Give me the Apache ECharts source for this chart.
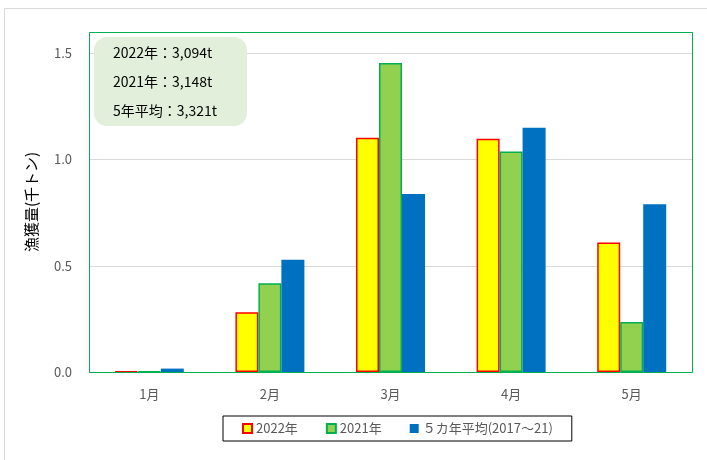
<!DOCTYPE html>
<html>
<head>
<meta charset="utf-8">
<script src="https://cdn.jsdelivr.net/npm/echarts@6/dist/echarts.min.js"></script>
<style>
  html, body { margin: 0; padding: 0; background: #fff; }
  #chart { width: 707px; height: 460px; }
</style>
</head>
<body>
<div id="chart"></div>
<script>
// データ
const months = ['1月', '2月', '3月', '4月', '5月'];
const catch2022 = [0.003, 0.281, 1.102, 1.098, 0.610];
const catch2021 = [0.003, 0.418, 1.454, 1.038, 0.235];
const avg5yr = [0.016, 0.528, 0.838, 1.149, 0.790];
const seriesNames = ['2022年', '2021年', '５カ年平均(2017～21)'];
const summaryLines = ['2022年：3,094t', '2021年：3,148t', '5年平均：3,321t'];

const FONT = '"Noto Sans CJK JP", "Noto Sans", sans-serif';
const chart = echarts.init(document.getElementById('chart'));

chart.setOption({
  animation: false,
  textStyle: { fontFamily: FONT },
  grid: { left: 89, right: 15, top: 32, bottom: 88 },
  legend: {
    left: 223, top: 416,
    borderColor: '#000', borderWidth: 1,
    padding: [6, 19, 6, 19],
    itemWidth: 9, itemHeight: 9, itemGap: 28,
    icon: 'rect',
    textStyle: { color: '#595959', fontSize: 13, fontFamily: FONT, padding: [0, 0, 0, -1] },
    data: seriesNames
  },
  xAxis: {
    type: 'category',
    data: months,
    axisLine: { lineStyle: { color: '#D9D9D9' } },
    axisTick: { show: false },
    axisLabel: { color: '#595959', fontSize: 13, margin: 16 }
  },
  yAxis: {
    type: 'value',
    min: 0, max: 1.6, interval: 0.5,
    name: '漁獲量(千トン)',
    nameLocation: 'middle',
    nameGap: 50,
    nameRotate: 90,
    nameTextStyle: { color: '#000', fontSize: 15 },
    axisLabel: {
      color: '#595959', fontSize: 13, margin: 17,
      showMaxLabel: false,
      formatter: v => v.toFixed(1)
    },
    splitLine: { lineStyle: { color: '#D9D9D9' } }
  },
  series: [
    {
      name: seriesNames[0], type: 'bar', data: catch2022,
      barWidth: 23, barGap: '0%',
      itemStyle: { color: '#FFFF00', borderColor: '#FF0000', borderWidth: 1.5 }
    },
    {
      name: seriesNames[1], type: 'bar', data: catch2021,
      barWidth: 23,
      itemStyle: { color: '#92D050', borderColor: '#00B050', borderWidth: 1.5 }
    },
    {
      name: seriesNames[2], type: 'bar', data: avg5yr,
      barWidth: 23,
      itemStyle: { color: '#0070C0' }
    }
  ],
  graphic: [
    // 外枠
    { type: 'rect', z: 100, shape: { x: 4.5, y: 8.5, width: 710, height: 460 },
      style: { fill: 'none', stroke: '#D9D9D9', lineWidth: 1 } },
    // プロットエリア枠（緑）
    { type: 'rect', z: 100, shape: { x: 89.5, y: 32.5, width: 603, height: 340 },
      style: { fill: 'none', stroke: '#00B050', lineWidth: 1 } },
    // 合計ボックス
    { type: 'rect', z: 90, shape: { x: 94, y: 37, width: 153, height: 89, r: 13 },
      style: { fill: '#E2EFDA' } },
    { type: 'text', z: 91, left: 113, top: 46,
      style: { text: summaryLines[0], fill: '#000', font: '14px ' + FONT } },
    { type: 'text', z: 91, left: 113, top: 75,
      style: { text: summaryLines[1], fill: '#000', font: '14px ' + FONT } },
    { type: 'text', z: 91, left: 113, top: 104,
      style: { text: summaryLines[2], fill: '#000', font: '14px ' + FONT } }
  ]
});
</script>
</body>
</html>
